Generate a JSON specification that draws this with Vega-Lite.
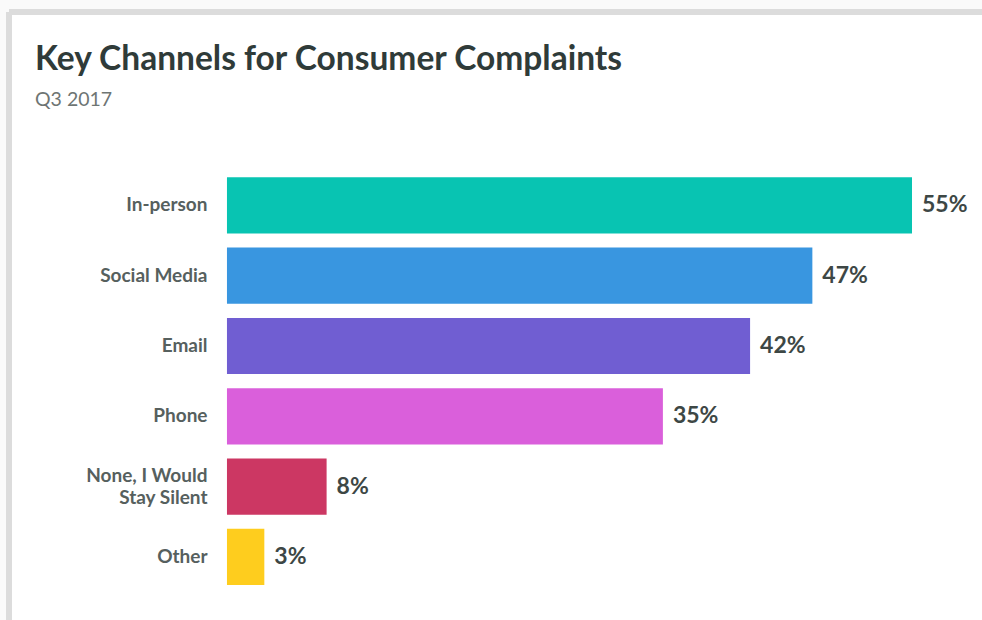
{
  "$schema": "https://vega.github.io/schema/vega-lite/v6.json",
  "width": 973,
  "height": 608,
  "autosize": {"type": "none"},
  "padding": {"left": 9, "top": 12, "right": 0, "bottom": 0},
  "background": "#fafafa",
  "title": {
    "text": "Key Channels for Consumer Complaints",
    "subtitle": "Q3 2017",
    "anchor": "start",
    "frame": "group",
    "offset": -98,
    "dx": 26,
    "font": "Lato",
    "fontSize": 33.5,
    "fontWeight": "bold",
    "color": "#2f3b39",
    "subtitleFont": "Lato",
    "subtitleFontSize": 19.5,
    "subtitleColor": "#6e7573",
    "subtitlePadding": 13
  },
  "config": {
    "view": {"fill": "white", "stroke": "#dcdcdc", "strokeWidth": 6, "strokeDash": [973, 1581, 608, 0]}
  },
  "data": {
    "values": [
      {"channel": "In-person", "value": 55, "label": "55%"},
      {"channel": "Social Media", "value": 47, "label": "47%"},
      {"channel": "Email", "value": 42, "label": "42%"},
      {"channel": "Phone", "value": 35, "label": "35%"},
      {"channel": "None, I Would Stay Silent", "value": 8, "label": "8%"},
      {"channel": "Other", "value": 3, "label": "3%"}
    ]
  },
  "encoding": {
    "y": {
      "field": "channel",
      "type": "nominal",
      "sort": null,
      "scale": {"paddingInner": 0.2, "paddingOuter": 0, "range": [165.3, 573], "round": false},
      "axis": {
        "title": null,
        "offset": -218,
        "domain": false,
        "ticks": false,
        "tickSize": 0,
        "labelPadding": 20,
        "labelFont": "Lato",
        "labelFontSize": 19,
        "labelFontWeight": "bold",
        "labelColor": "#56605e",
        "labelLimit": 300,
        "labelLineHeight": 22,
        "labelOffset": {"condition": {"test": "datum.value == 'None, I Would Stay Silent'", "value": -11}, "value": 0},
        "labelExpr": "datum.label == 'None, I Would Stay Silent' ? ['None, I Would', 'Stay Silent'] : datum.label"
      }
    },
    "x": {
      "field": "value",
      "type": "quantitative",
      "scale": {"domain": [-17.5, 60.62], "nice": false},
      "axis": null
    }
  },
  "layer": [
    {
      "mark": {"type": "bar"},
      "encoding": {
        "color": {
          "field": "channel",
          "type": "nominal",
          "scale": {
            "domain": ["In-person", "Social Media", "Email", "Phone", "None, I Would Stay Silent", "Other"],
            "range": ["#08c4b2", "#3996e0", "#705ed2", "#da5fdb", "#cc3763", "#fecd1e"]
          },
          "legend": null
        }
      }
    },
    {
      "mark": {"type": "text", "align": "left", "baseline": "middle", "dx": 10, "font": "Lato", "fontSize": 23, "fontWeight": "bold", "color": "#3d4745"},
      "encoding": {
        "text": {"field": "label"}
      }
    }
  ]
}
